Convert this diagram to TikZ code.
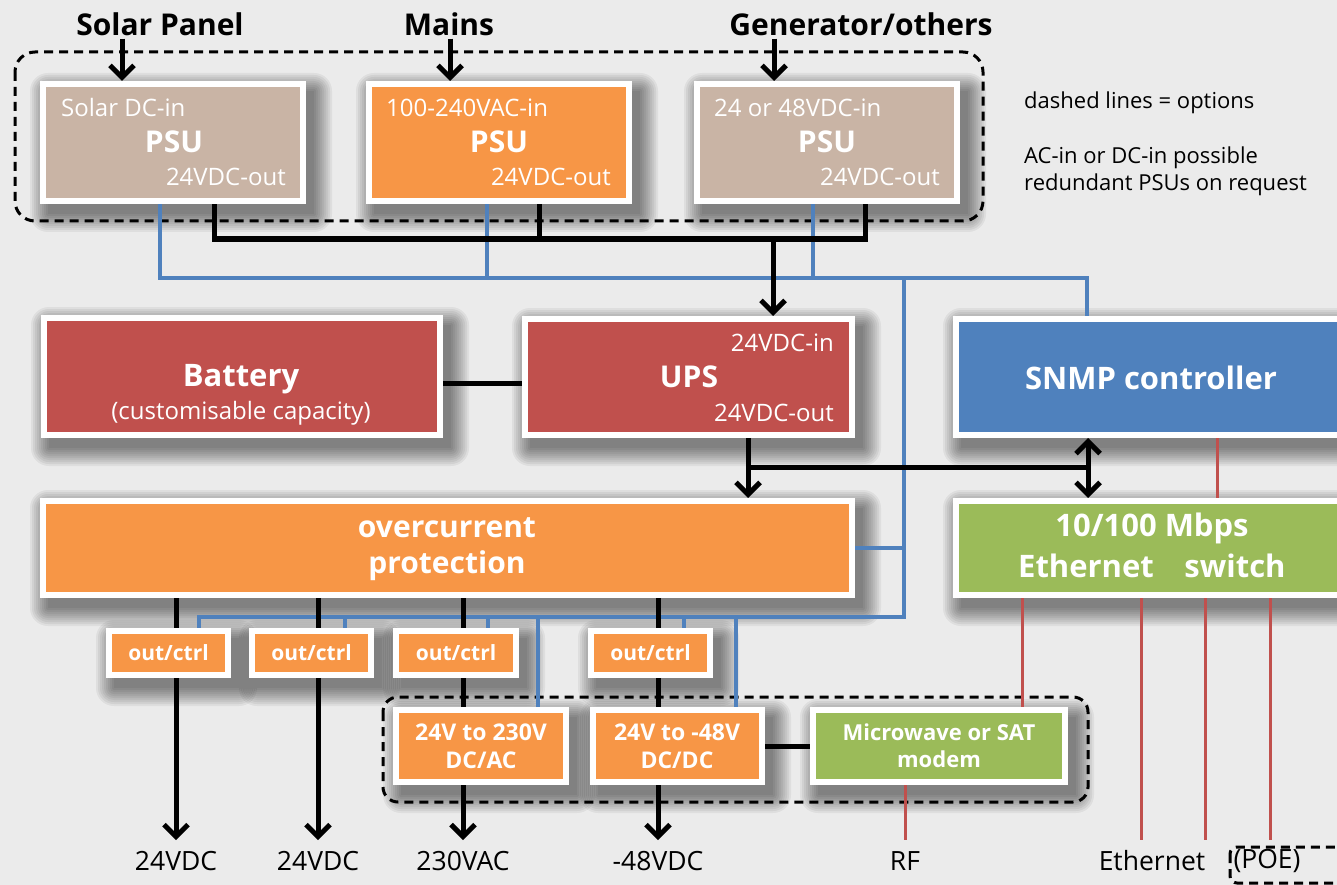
\documentclass[tikz,border=0pt]{standalone}
\usepackage{fontspec}
\setmainfont{Open Sans}
\usetikzlibrary{arrows.meta}
\definecolor{cBrown}{HTML}{C9B4A5}
\definecolor{cOr}{HTML}{F79646}
\definecolor{cRed}{HTML}{C0504D}
\definecolor{cBlue}{HTML}{4F81BD}
\definecolor{cGreen}{HTML}{9BBB59}
\definecolor{cBg}{HTML}{EBEBEB}
\pgfdeclarelayer{bg}\pgfdeclarelayer{shad}\pgfdeclarelayer{wires}
\pgfsetlayers{bg,shad,wires,main}
\newcommand\fz[1]{\fontsize{#1}{#1}\selectfont}
\newcommand\mkbox[7]{%
  \begin{pgfonlayer}{shad}
    \foreach \r in {0,2,...,18}{
      \fill[black,opacity=0.055,rounded corners={\r*1pt}] ({#2+8-\r},{#3+10-\r}) rectangle ({#4+8+\r},{#5+10+\r});}
  \end{pgfonlayer}
  \node[box,fill=#6,minimum width={(#4-#2-6)*1pt},minimum height={(#5-#3-6)*1pt}] (#1) at ({(#2+#4)/2},{(#3+#5)/2}) {#7};}
\tikzset{
 box/.style={draw=white,line width=6pt,text=white,inner sep=0pt,align=center},
 blk/.style={line width=5pt,draw=black},
 bl/.style={line width=4pt,draw=cBlue},
 rd/.style={line width=3pt,draw=cRed},
 arr/.style={-{Straight Barb[length=12pt,width=24pt]}},
 arrtwo/.style={{Straight Barb[length=12pt,width=24pt]}-{Straight Barb[length=12pt,width=24pt]}},
 dsh/.style={line width=3pt,dash pattern=on 9pt off 6pt,draw=black},
 wt/.style={text=white,inner sep=0pt},
 ttl/.style={font=\fz{30}\bfseries,inner sep=3pt},
 lbl/.style={font=\fz{26.5},inner xsep=0pt,inner ysep=11pt},
 note/.style={font=\fz{22},anchor=west,inner sep=0pt},
}
\begin{document}
\begin{tikzpicture}[x=1pt,y=-1pt]
\useasboundingbox (0,0) rectangle (1337,885);
\begin{pgfonlayer}{bg}
  \fill[cBg] (0,0) rectangle (1337,885);
\end{pgfonlayer}

% titles
\node[ttl] (sp) at (160,24) {Solar Panel};
\node[ttl] (mains) at (449,24) {Mains};
\node[ttl] (gen) at (861,24) {Generator/others};

% notes
\node[note] (n1) at (1024,103) {dashed lines = options};
\node[note] (n2) at (1024,158) {AC-in or DC-in possible};
\node[note] (n3) at (1024,185) {redundant PSUs on request};

% PSUs
\mkbox{psu1}{40}{81}{306}{204}{cBrown}{}
\mkbox{psu2}{366}{81}{632}{204}{cOr}{}
\mkbox{psu3}{694}{81}{960}{204}{cBrown}{}
\node[wt,font=\fz{24},anchor=west] (p1a) at (61,108) {Solar DC-in};
\node[wt,font=\fz{30}\bfseries] (p1b) at (174,142) {PSU};
\node[wt,font=\fz{24},anchor=east] (p1c) at (286,177) {24VDC-out};
\node[wt,font=\fz{24},anchor=west] (p2a) at (386,108) {100-240VAC-in};
\node[wt,font=\fz{30}\bfseries] (p2b) at (499,142) {PSU};
\node[wt,font=\fz{24},anchor=east] (p2c) at (611,177) {24VDC-out};
\node[wt,font=\fz{24},anchor=west] (p3a) at (714,108) {24 or 48VDC-in};
\node[wt,font=\fz{30}\bfseries] (p3b) at (827,142) {PSU};
\node[wt,font=\fz{24},anchor=east] (p3c) at (940,177) {24VDC-out};

% Battery, UPS, SNMP
\mkbox{bat}{41}{315}{443}{438}{cRed}{}
\node[wt,font=\fz{31}\bfseries] (bt1) at (241,379) {Battery};
\node[wt,font=\fz{24}] (bt2) at (241,413) {(customisable capacity)};
\mkbox{ups}{522}{316}{855}{438}{cRed}{}
\node[wt,font=\fz{24},anchor=east] (u1t) at (834,343) {24VDC-in};
\node[wt,font=\fz{30}\bfseries] (u2t) at (689,377) {UPS};
\node[wt,font=\fz{24},anchor=east] (u3t) at (834,413) {24VDC-out};
\mkbox{snmp}{953}{316}{1352}{438}{cBlue}{}
\node[wt,font=\fz{31}\bfseries] (snt) at (1151,378) {SNMP controller};

% overcurrent, switch
\mkbox{oc}{40}{498}{855}{598}{cOr}{}
\node[wt,font=\fz{30}\bfseries] (oct1) at (447,528) {overcurrent};
\node[wt,font=\fz{30}\bfseries] (oct2) at (447,566) {protection};
\mkbox{sw}{953}{498}{1352}{598}{cGreen}{}
\node[wt,font=\fz{31}\bfseries] (swt1) at (1152,528) {10/100 Mbps};
\node[wt,font=\fz{31}\bfseries] (swt2) at (1086,566) {Ethernet};
\node[wt,font=\fz{31}\bfseries] (swt3) at (1235,566) {switch};

% out/ctrl
\mkbox{o1}{106}{628}{231}{678}{cOr}{\fz{21}\bfseries out/ctrl}
\mkbox{o2}{249}{628}{374}{678}{cOr}{\fz{21}\bfseries out/ctrl}
\mkbox{o3}{393}{628}{519}{678}{cOr}{\fz{21}\bfseries out/ctrl}
\mkbox{o4}{588}{628}{713}{678}{cOr}{\fz{21}\bfseries out/ctrl}

% converters, modem
\mkbox{dcac}{393}{707}{569}{785}{cOr}{}
\node[wt,font=\fz{23}\bfseries] (da1) at (481,732) {24V to 230V};
\node[wt,font=\fz{23}\bfseries] (da2) at (481,760) {DC/AC};
\mkbox{dcdc}{590}{707}{765}{785}{cOr}{}
\node[wt,font=\fz{23}\bfseries] (dd1) at (677,732) {24V to -48V};
\node[wt,font=\fz{23}\bfseries] (dd2) at (677,760) {DC/DC};
\mkbox{modem}{810}{707}{1068}{785}{cGreen}{}
\node[wt,font=\fz{22}\bfseries] (md1) at (939,732) {Microwave or SAT};
\node[wt,font=\fz{22}\bfseries] (md2) at (939,759) {modem};

% bottom labels
\node[lbl] (l1) at (176,861) {24VDC};
\node[lbl] (l2) at (318,861) {24VDC};
\node[lbl] (l3) at (463,861) {230VAC};
\node[lbl] (l4) at (658,861) {-48VDC};
\node[lbl] (rf) at (905,861) {RF};
\node[lbl] (eth) at (1152,861) {Ethernet};
\node[lbl] (poe) at (1267,861) {(POE)};

% coordinates
\coordinate (a1) at (122,0);
\coordinate (a2) at (450,0);
\coordinate (a3) at (774,0);
\coordinate (k1) at (214,239);
\coordinate (k2) at (539,239);
\coordinate (k3) at (865,239);
\coordinate (k4) at (773,239);
\coordinate (bu) at (0,383);
\coordinate (u1) at (748,467);
\coordinate (u2) at (1088,467);
\coordinate (b1) at (160,278);
\coordinate (b2) at (487,278);
\coordinate (b3) at (813,278);
\coordinate (b4) at (904,278);
\coordinate (b5) at (1087,278);
\coordinate (b6) at (904,617);
\coordinate (b7) at (199,617);
\coordinate (bb) at (904,548);
\coordinate (s2) at (345,617);
\coordinate (s3) at (488,617);
\coordinate (s4) at (684,617);
\coordinate (s5) at (538,617);
\coordinate (s6) at (736,617);
\coordinate (r0) at (1217,0);
\coordinate (r1) at (1022,0);
\coordinate (r2) at (1141,0);
\coordinate (r3) at (1205,0);
\coordinate (r4) at (1270,0);

\begin{pgfonlayer}{wires}
  % option frames
  \draw[dsh,rounded corners=20pt] (15,52) rectangle (983,221);
  \draw[dsh,rounded corners=15pt] (383,697) rectangle (1088,802);
  \draw[dsh,rounded corners=7pt] (1230,847) rectangle (1352,883);
  % inputs
  \draw[blk,arr] (sp.south -| a1) -- (a1 |- psu1.north);
  \draw[blk,arr] (mains.south -| a2) -- (a2 |- psu2.north);
  \draw[blk,arr] (gen.south -| a3) -- (a3 |- psu3.north);
  % blue control bus
  \draw[bl] (b1 |- psu1.south) -- (b1) -- (b5) -- (b5 |- snmp.north);
  \draw[bl] (b2 |- psu2.south) -- (b2);
  \draw[bl] (b3 |- psu3.south) -- (b3);
  \draw[bl] (b4) -- (b6) -- (b7) -- (b7 |- o1.north);
  \draw[bl] (oc.east |- bb) -- (bb);
  \draw[bl] (s2) -- (s2 |- o2.north);
  \draw[bl] (s3) -- (s3 |- o3.north);
  \draw[bl] (s4) -- (s4 |- o4.north);
  \draw[bl] (s5) -- (s5 |- dcac.north);
  \draw[bl] (s6) -- (s6 |- dcdc.north);
  % black power
  \draw[blk] (k1 |- psu1.south) -- (k1) -- (k3) -- (k3 |- psu3.south);
  \draw[blk] (k2 |- psu2.south) -- (k2);
  \draw[blk,arr] (k4) -- (k4 |- ups.north);
  \draw[blk] (bat.east |- bu) -- (ups.west |- bu);
  \draw[blk,arr] (u1 |- ups.south) -- (u1 |- oc.north);
  \draw[blk] (u1) -- (u2);
  \draw[blk,arrtwo] (u2 |- snmp.south) -- (u2 |- sw.north);
  \draw[blk,arr] (oc.south -| l1) -- (l1.north);
  \draw[blk,arr] (oc.south -| l2) -- (l2.north);
  \draw[blk,arr] (oc.south -| l3) -- (l3.north);
  \draw[blk,arr] (oc.south -| l4) -- (l4.north);
  \draw[blk] (dcdc.east) -- (modem.west);
  % red data
  \draw[rd] (r0 |- snmp.south) -- (r0 |- sw.north);
  \draw[rd] (r1 |- sw.south) -- (r1 |- modem.north);
  \draw[rd] (modem.south -| rf) -- (rf.north);
  \draw[rd] (r2 |- sw.south) -- (r2 |- eth.north);
  \draw[rd] (r3 |- sw.south) -- (r3 |- eth.north);
  \draw[rd] (r4 |- sw.south) -- (r4 |- eth.north);
\end{pgfonlayer}
\end{tikzpicture}
\end{document}
